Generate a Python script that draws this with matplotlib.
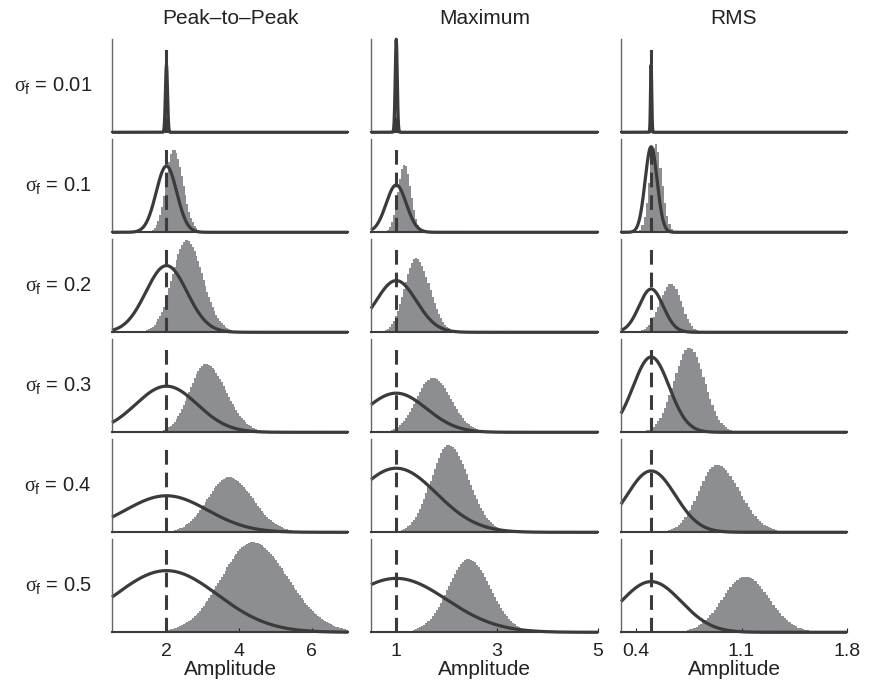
import numpy as np
import matplotlib.pyplot as plt

plt.rcParams['font.family'] = ['Liberation Sans', 'DejaVu Sans']
plt.rcParams['mathtext.fontset'] = 'custom'
plt.rcParams['mathtext.rm'] = 'Liberation Sans'
plt.rcParams['mathtext.it'] = 'Liberation Serif'

# подписи и оси
titles = ['Peak\u2013to\u2013Peak', 'Maximum', 'RMS']
sigma_labels = ['0.01', '0.1', '0.2', '0.3', '0.4', '0.5']
sigma_f = [0.01, 0.1, 0.2, 0.3, 0.4, 0.5]
true_value = [2.0, 1.0, 0.5]
curve_sd_factor = [2.83, 2.0, 0.4]      # sd кривой = factor * sigma_f
x_limits = [(0.5, 7.0), (0.5, 5.0), (0.3, 1.8)]
x_ticks = [[2, 4, 6], [1, 3, 5], [0.4, 1.1, 1.8]]
bin_width = [0.05, 0.04, 0.015]

# высоты - доля от высоты панели (строки sigma_f = 0.01 ... 0.5)
p2p_curve_peak = [0.724, 0.712, 0.717, 0.496, 0.393, 0.663]
p2p_hist_peak = [0.68, 0.893, 0.99, 0.737, 0.593, 0.968]
p2p_hist_mode = [2.0, 2.20, 2.55, 3.08, 3.72, 4.37]
p2p_hist_hw_left = [0.033, 0.25, 0.46, 0.52, 0.69, 1.01]
p2p_hist_hw_right = [0.033, 0.30, 0.53, 0.66, 0.78, 1.15]

max_curve_peak = [1.0, 0.509, 0.556, 0.421, 0.689, 0.58]
max_hist_peak = [0.95, 0.73, 0.796, 0.586, 0.94, 0.785]
max_hist_mode = [1.0, 1.17, 1.40, 1.72, 2.03, 2.43]
max_hist_hw_left = [0.024, 0.15, 0.27, 0.37, 0.40, 0.48]
max_hist_hw_right = [0.024, 0.15, 0.31, 0.43, 0.48, 0.52]

rms_curve_peak = [0.724, 0.92, 0.466, 0.81, 0.66, 0.545]
rms_hist_peak = [0.68, 0.95, 0.52, 0.91, 0.725, 0.6]
rms_hist_mode = [0.5, 0.529, 0.634, 0.754, 0.937, 1.125]
rms_hist_hw_left = [0.005, 0.045, 0.09, 0.12, 0.143, 0.177]
rms_hist_hw_right = [0.005, 0.05, 0.08, 0.12, 0.177, 0.187]

columns = [
    (p2p_curve_peak, p2p_hist_peak, p2p_hist_mode, p2p_hist_hw_left, p2p_hist_hw_right),
    (max_curve_peak, max_hist_peak, max_hist_mode, max_hist_hw_left, max_hist_hw_right),
    (rms_curve_peak, rms_hist_peak, rms_hist_mode, rms_hist_hw_left, rms_hist_hw_right),
]

hist_color = '#8d8e91'
line_color = '#3b3b3b'
text_color = '#222222'

W, H = 885, 696
fig = plt.figure(figsize=(W / 100, H / 100), dpi=100)

col_left = [112, 371, 621]
col_width = [236, 227, 226]
row_top = 39.3
row_height = 93
row_step = 100

for j in range(3):
    curve_peak, hist_peak, hist_mode, hw_l, hw_r = columns[j]
    xmin, xmax = x_limits[j]
    for i in range(6):
        top = row_top + i * row_step
        ax = fig.add_axes([col_left[j] / W, (H - top - row_height) / H,
                           col_width[j] / W, row_height / H])

        # гистограмма
        edges = np.arange(xmin, xmax + bin_width[j], bin_width[j])
        centers = (edges[:-1] + edges[1:]) / 2
        sd_l = hw_l[i] / 1.1774
        sd_r = hw_r[i] / 1.1774
        sd = np.where(centers < hist_mode[i], sd_l, sd_r)
        heights = hist_peak[i] * np.exp(-(centers - hist_mode[i]) ** 2 / (2 * sd ** 2))
        ax.stairs(heights, edges, fill=True, color=hist_color, linewidth=0, zorder=1)

        # нормальная кривая вокруг истинного значения
        x = np.linspace(xmin, xmax, 3000)
        s = curve_sd_factor[j] * sigma_f[i]
        y = curve_peak[i] * np.exp(-(x - true_value[j]) ** 2 / (2 * s ** 2))
        ax.plot(x, y, color=line_color, lw=2.3, zorder=2, clip_on=False,
                solid_capstyle='butt')

        ax.axvline(true_value[j], ymin=0, ymax=0.97, color=line_color, lw=2.2,
                   dashes=(4.8, 2.6), zorder=3)

        ax.set_xlim(xmin, xmax)
        ax.set_ylim(0, 1)
        ax.set_yticks([])
        for side in ['top', 'right']:
            ax.spines[side].set_visible(False)
        ax.spines['left'].set_color('#666666')
        ax.spines['left'].set_linewidth(1.0)
        ax.spines['bottom'].set_color(line_color)
        ax.spines['bottom'].set_linewidth(1.5)

        if i == 5:
            ax.set_xticks(x_ticks[j])
            ax.set_xticklabels([str(t) for t in x_ticks[j]])
            ax.tick_params(axis='x', direction='in', length=3, width=0.8,
                           labelsize=14, pad=8, colors=text_color)
            ax.set_xlabel('Amplitude', fontsize=15, labelpad=0, color=text_color)
        else:
            ax.set_xticks([])

        if i == 0:
            ax.set_title(titles[j], fontsize=15, pad=11, color=text_color)

        if j == 0:
            ax.text(-0.085, 0.5, r'$\sigma_\mathrm{f}$ = ' + sigma_labels[i],
                    transform=ax.transAxes, ha='right', va='center',
                    fontsize=14.5, color=text_color)

fig.savefig('out.png', dpi=100)
